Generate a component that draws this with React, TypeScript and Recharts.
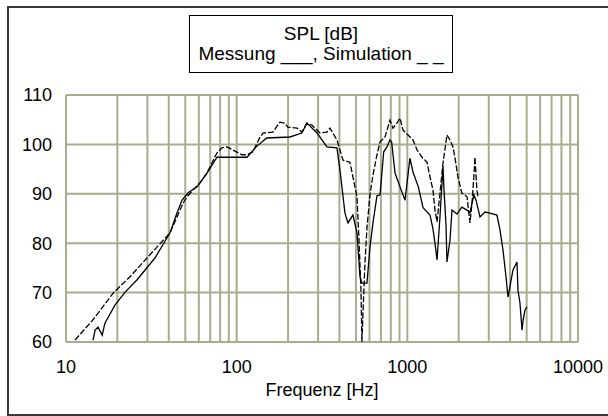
import { LineChart, Line, XAxis, YAxis, ReferenceLine } from 'recharts';

const FONT = '"Liberation Sans", Arial, sans-serif';
const GRID = '#abab8e';

const xTicks = [10, 100, 1000, 10000];
const yTicks = [60, 70, 80, 90, 100, 110];
const gridFreqs = [
  10, 20, 30, 40, 50, 60, 70, 80, 90,
  100, 200, 300, 400, 500, 600, 700, 800, 900,
  1000, 2000, 3000, 4000, 5000, 6000, 7000, 8000, 9000, 10000,
];

// Messung (solid)
const measFreq = [
  14.4, 14.8, 15.4, 16.3, 16.9, 19.4, 22.2, 26.1, 33.2, 40.7, 44.7, 47.8, 51.9, 58.6,
  67, 76.7, 82, 115, 130, 150, 205, 241, 258, 296, 338, 387, 403, 431, 449, 480, 507, 528,
  542, 580, 604, 629, 664, 692, 727, 760, 791, 809, 847, 906, 969, 1036, 1079, 1160, 1236,
  1358, 1413, 1452, 1493, 1553, 1618, 1640, 1685, 1707, 1778, 1827, 1954, 2084, 2237, 2328,
  2453, 2526, 2666, 2851, 3050, 3350, 3490, 3636, 3785, 3890, 4160, 4390, 4450, 4570, 4700,
  4770, 4890, 5020,
];
const measDb = [
  60.4, 62.4, 63.0, 61.4, 63.8, 67.5, 70.1, 72.6, 77.0, 82.1, 86.1, 88.7, 90.2, 91.4,
  94.2, 97.4, 97.4, 97.4, 99.5, 101.3, 101.5, 102.3, 104.3, 102.3, 99.5, 99.3, 94.8, 86.1, 84.1,
  85.7, 82.1, 73.2, 71.9, 71.9, 79.2, 84.1, 89.6, 89.8, 98.5, 99.5, 100.9, 100.5, 94.2, 91.4,
  88.7, 97.2, 94.4, 91.4, 87.2, 85.7, 82.9, 80.0, 76.6, 85.3, 95.6, 90.8, 83.7, 76.2, 80.6,
  86.7, 85.9, 87.3, 86.7, 86.1, 89.8, 88.7, 85.3, 86.3, 86.1, 85.7, 82.7, 78.6, 73.2, 69.1,
  74.6, 76.2, 70.5, 67.9, 62.4, 64.5, 66.5, 67.1,
];

// Simulation (dashed)
const simFreq = [
  11.3, 14.4, 18.9, 23.7, 29.8, 40.7, 48.5, 51.2, 55.5, 61, 67, 76.7, 82, 87.7, 94.5, 107.5,
  115, 124.6, 137, 143, 163, 179, 192, 199, 226, 241, 258, 276, 308, 338, 352, 387, 420, 461,
  480, 507, 521, 535, 542, 550, 565, 580, 604, 629, 664, 692, 740, 791, 824, 869, 906, 943,
  1009, 1079, 1140, 1219, 1304, 1358, 1413, 1452, 1493, 1618, 1707, 1778, 1852, 1899, 1980,
  2084, 2237, 2328, 2393, 2453, 2490, 2556, 2595,
];
const simDb = [
  60.4, 64.5, 69.9, 73.2, 77.0, 82.1, 88.1, 89.4, 90.8, 92.2, 94.2, 98.3, 99.3, 99.5, 98.9,
  97.9, 97.9, 98.5, 101.5, 102.3, 102.5, 104.5, 104.3, 103.5, 103.3, 102.5, 104.3, 103.9,
  102.3, 102.5, 103.3, 100.9, 96.8, 96.4, 93.4, 89.4, 80.6, 70.5, 60, 66.1, 76.2, 83.1, 89.8,
  93.8, 97.9, 100.5, 101.5, 104.9, 103.3, 104.3, 105.3, 102.9, 101.9, 100.9, 98.9, 97.4, 96.4,
  93.4, 90.8, 86.7, 84.3, 96.2, 101.9, 100.9, 99.5, 97.4, 93.4, 90.2, 89.4, 84.1, 88.1, 93.4,
  97.4, 90.8, 89.4,
];

const toPoints = (freq: number[], db: number[]) => freq.map((f, i) => ({ f, db: db[i] }));
const measData = toPoints(measFreq, measDb);
const simData = toPoints(simFreq, simDb);

export default function App() {
  return (
    <div style={{ position: 'absolute', left: 0, top: 0, width: 608, height: 416, fontFamily: FONT }}>
      <div
        style={{
          position: 'absolute',
          left: 7,
          top: 6,
          width: 601,
          height: 410,
          boxSizing: 'border-box',
          borderLeft: '2px solid #3a3a3a',
          borderTop: '2px solid #3a3a3a',
          borderBottom: '2px solid #3a3a3a',
        }}
      />
      <div style={{ position: 'absolute', left: 0, top: 0 }}>
        <LineChart width={608} height={416} margin={{ top: 95, right: 30, bottom: 44, left: 8 }}>
          <XAxis
            dataKey="f"
            type="number"
            scale="log"
            domain={[10, 10000]}
            ticks={xTicks}
            allowDataOverflow
            tickLine={false}
            axisLine={false}
            height={30}
            tickSize={6}
            tickMargin={12}
            tick={{ fill: '#000', fontSize: 18, fontFamily: FONT }}
            label={{ value: 'Frequenz [Hz]', position: 'bottom', offset: 11, fill: '#000', fontSize: 18, fontFamily: FONT }}
          />
          <YAxis
            type="number"
            domain={[60, 110]}
            ticks={yTicks}
            allowDataOverflow
            tickLine={false}
            axisLine={false}
            width={58}
            tickSize={6}
            tickMargin={8}
            tick={{ fill: '#000', fontSize: 18, fontFamily: FONT }}
          />
          {gridFreqs.map((v) => (
            <ReferenceLine key={'x' + v} x={v} stroke={GRID} strokeWidth={2} />
          ))}
          {yTicks.map((v) => (
            <ReferenceLine key={'y' + v} y={v} stroke={GRID} strokeWidth={2} />
          ))}
          <Line
            data={simData}
            dataKey="db"
            name="Simulation"
            stroke="#000"
            strokeWidth={1.3}
            strokeDasharray="6 2"
            dot={false}
            activeDot={false}
            isAnimationActive={false}
          />
          <Line
            data={measData}
            dataKey="db"
            name="Messung"
            stroke="#000"
            strokeWidth={1.3}
            dot={false}
            activeDot={false}
            isAnimationActive={false}
          />
        </LineChart>
      </div>
      <div
        style={{
          position: 'absolute',
          left: 189,
          top: 15,
          width: 264,
          height: 58,
          boxSizing: 'border-box',
          border: '1.5px solid #000',
          background: '#fff',
          textAlign: 'center',
          fontSize: 19,
          lineHeight: '20px',
          paddingTop: 8,
          color: '#000',
          whiteSpace: 'nowrap',
        }}
      >
        <div>SPL [dB]</div>
        <div>Messung ___, Simulation _ _</div>
      </div>
    </div>
  );
}
